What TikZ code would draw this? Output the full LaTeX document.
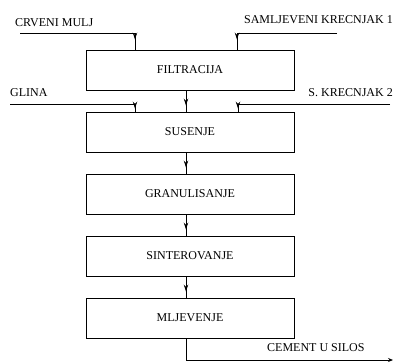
\documentclass[tikz,border=0pt]{standalone}
\usepackage{fontspec}
\setmainfont{Liberation Serif}
\usepackage{tikz}
\usetikzlibrary{arrows.meta, positioning, decorations.markings}

\begin{document}
\begin{tikzpicture}[
    x=1pt, y=-1pt,
    font=\fontsize{12}{14}\selectfont,
    proc/.style={draw, line width=0.9pt, minimum width=208pt, minimum height=40pt, inner sep=0pt},
    lbl/.style={anchor=base west, inner sep=0pt},
    feed/.style={line width=0.8pt, decoration={markings, mark=at position #1 with {\arrow{Stealth[length=7pt, width=4.5pt]}}}, postaction={decorate}},
]
    \useasboundingbox (0,0) rectangle (395,362);
    \node[proc] (filt) at (190,70) {FILTRACIJA};
    \node[proc] (sus) at (190,132) {SUSENJE};
    \node[proc] (gran) at (190,194) {GRANULISANJE};
    \node[proc] (sint) at (190,256) {SINTEROVANJE};
    \node[proc] (mlj) at (190,318) {MLJEVENJE};

    \node[lbl] (tmulj) at (15,26) {CRVENI MULJ};
    \node[lbl, anchor=base east] (tkrec1) at (393,23) {SAMLJEVENI KRECNJAK 1};
    \node[lbl] (tglina) at (10,96) {GLINA};
    \node[lbl, anchor=base east] (tkrec2) at (393,96) {S. KRECNJAK 2};
    \node[lbl] (tcem) at (267,351) {CEMENT U SILOS};

    \coordinate (mulj) at (20,33);
    \coordinate (krec1) at (337,33);
    \coordinate (glina) at (10,104);
    \coordinate (krec2) at (390,104);
    \coordinate (silos) at (393,360);

    \draw[feed=-10pt] (mulj) -| ([xshift=-55pt]filt.north);
    \draw[feed=-10pt] (krec1) -| ([xshift=47pt]filt.north);
    \draw[feed=-3pt] (glina) -| ([xshift=-55pt]sus.north);
    \draw[feed=-3pt] (krec2) -| ([xshift=48pt]sus.north);

    \draw[feed=-6pt] ([xshift=-4pt]filt.south) -- ([xshift=-4pt]sus.north);
    \draw[feed=-6pt] ([xshift=-4pt]sus.south) -- ([xshift=-4pt]gran.north);
    \draw[feed=-6pt] ([xshift=-4pt]gran.south) -- ([xshift=-4pt]sint.north);
    \draw[feed=-6pt] ([xshift=-4pt]sint.south) -- ([xshift=-4pt]mlj.north);

    \draw[line width=0.8pt, -{Stealth[length=5pt, width=4pt]}] ([xshift=-4pt]mlj.south) |- (silos);
\end{tikzpicture}
\end{document}
